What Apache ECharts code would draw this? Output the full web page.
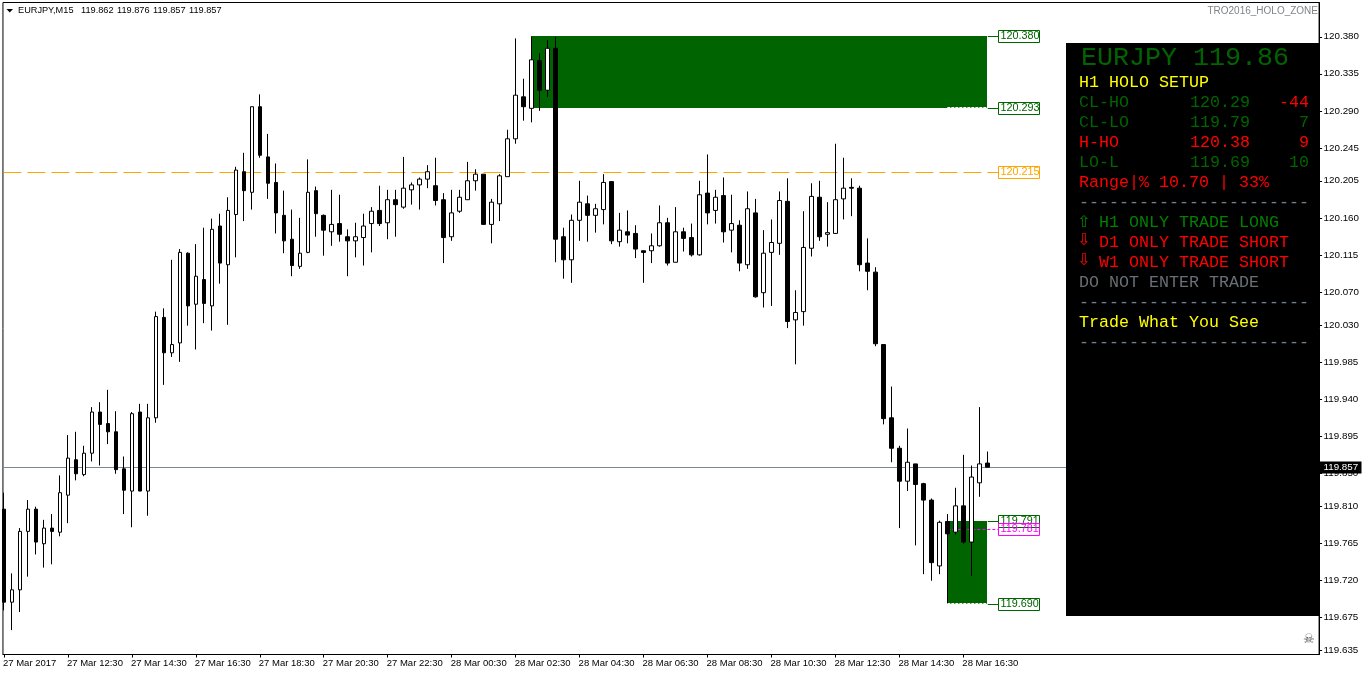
<!DOCTYPE html>
<html>
<head>
<meta charset="utf-8">
<style>html,body{margin:0;padding:0;background:#fff}#c{width:1362px;height:675px}</style>
<script src="https://cdn.jsdelivr.net/npm/echarts@6/dist/echarts.min.js"></script>
</head>
<body>
<div id="c"></div>
<script>
const opens=[119.806,119.693,119.708,119.779,119.806,119.764,119.783,119.778,119.823,119.866,
119.848,119.874,119.924,119.910,119.900,119.855,119.828,119.924,119.828,119.917,
120.039,119.996,120.008,120.117,120.055,120.085,120.053,120.150,120.103,120.164,
120.216,120.191,120.295,120.234,120.203,120.163,120.134,120.101,120.118,120.193,
120.163,120.143,120.153,120.137,120.132,120.136,120.153,120.169,120.154,120.182,
120.173,120.194,120.200,120.207,120.199,120.182,120.137,120.168,120.182,120.205,
120.213,120.152,120.177,120.210,120.256,120.307,120.293,120.351,120.315,120.366,
120.137,120.109,120.157,120.177,120.163,120.170,120.204,120.131,120.143,120.141,
120.120,120.120,120.126,120.154,120.106,120.143,120.136,120.115,120.190,120.169,
120.187,120.145,120.151,120.103,120.166,120.069,120.118,120.129,120.180,120.036,
120.046,120.123,120.185,120.140,120.141,120.183,120.197,120.196,120.105,120.094,
120.006,119.917,119.880,119.840,119.861,119.837,119.817,119.737,119.791,119.778,
119.810,119.766,119.838,119.862];
const closes=[119.693,119.708,119.779,119.806,119.766,119.783,119.779,119.826,119.868,119.849,
119.874,119.924,119.909,119.900,119.854,119.829,119.922,119.828,119.917,120.040,
119.996,120.006,120.118,120.053,120.089,120.056,120.146,120.105,120.169,120.218,
120.193,120.295,120.236,120.202,120.166,120.132,120.102,120.117,120.191,120.165,
120.145,120.152,120.140,120.132,120.137,120.150,120.168,120.153,120.182,120.176,
120.196,120.200,120.207,120.216,120.181,120.136,120.166,120.185,120.205,120.213,
120.152,120.179,120.211,120.256,120.309,120.295,120.352,120.315,120.366,120.134,
120.109,120.157,120.179,120.163,120.171,120.203,120.132,120.145,120.139,120.122,
120.118,120.126,120.154,120.105,120.143,120.135,120.115,120.188,120.166,120.185,
120.143,120.153,120.105,120.171,120.064,120.117,120.130,120.181,120.034,120.045,
120.124,120.186,120.137,120.142,120.182,120.196,120.196,120.103,120.095,120.007,
119.916,119.880,119.840,119.863,119.836,119.817,119.741,119.790,119.776,119.810,
119.766,119.845,119.861,119.857];
const lows=[119.683,119.659,119.681,119.724,119.751,119.735,119.739,119.773,119.789,119.841,
119.846,119.864,119.859,119.885,119.849,119.800,119.784,119.828,119.798,119.911,
119.957,119.991,119.985,120.029,120.000,120.032,120.023,120.080,120.030,120.112,
120.156,120.170,120.233,120.183,120.141,120.117,120.089,120.098,120.117,120.137,
120.114,120.126,120.131,120.089,120.112,120.102,120.118,120.150,120.134,120.137,
120.171,120.176,120.170,120.196,120.175,120.105,120.132,120.166,120.182,120.193,
120.152,120.129,120.156,120.210,120.250,120.278,120.276,120.290,120.307,120.106,
120.086,120.081,120.132,120.131,120.142,120.152,120.128,120.125,120.129,120.111,
120.081,120.105,120.125,120.102,120.106,120.119,120.113,120.114,120.152,120.153,
120.130,120.118,120.095,120.098,120.063,120.051,120.053,120.115,120.026,119.982,
120.029,120.113,120.132,120.125,120.141,120.158,120.162,120.095,120.072,120.004,
119.909,119.863,119.783,119.828,119.762,119.727,119.719,119.727,119.776,119.775,
119.764,119.725,119.821,119.857];
const highs=[119.826,119.728,119.783,119.817,119.809,119.793,119.800,119.847,119.896,119.900,
119.883,119.930,119.936,119.951,119.925,119.870,119.924,119.934,119.934,120.046,
120.050,120.109,120.122,120.118,120.128,120.148,120.159,120.165,120.185,120.222,
120.239,120.295,120.310,120.262,120.226,120.193,120.170,120.160,120.231,120.198,
120.164,120.194,120.188,120.146,120.154,120.165,120.173,120.199,120.194,120.194,
120.234,120.203,120.209,120.224,120.233,120.190,120.194,120.194,120.228,120.219,
120.213,120.183,120.213,120.267,120.378,120.329,120.380,120.360,120.376,120.380,
120.148,120.164,120.205,120.187,120.177,120.213,120.204,120.166,120.169,120.151,
120.120,120.141,120.175,120.160,120.173,120.148,120.153,120.205,120.237,120.194,
120.209,120.188,120.157,120.192,120.183,120.145,120.158,120.192,120.208,120.072,
120.168,120.202,120.205,120.179,120.250,120.233,120.208,120.199,120.135,120.100,
120.006,119.955,119.883,119.904,119.861,119.838,119.819,119.792,119.800,119.832,
119.872,119.859,119.930,119.876];

const timeLabels=['27 Mar 2017','27 Mar 12:30','27 Mar 14:30','27 Mar 16:30','27 Mar 18:30','27 Mar 20:30','27 Mar 22:30','28 Mar 00:30','28 Mar 02:30','28 Mar 04:30','28 Mar 06:30','28 Mar 08:30','28 Mar 10:30','28 Mar 12:30','28 Mar 14:30','28 Mar 16:30'];
const barsPerLabel=8;
const priceTicks=[120.380,120.335,120.290,120.245,120.205,120.160,120.115,120.070,120.030,119.985,119.940,119.895,119.850,119.810,119.765,119.720,119.675,119.635];

const holoHigh=120.380, holoLow=120.293, lowerHigh=119.791, lowerMid=119.781, lowerLow=119.690, pivot=120.215, bid=119.857;
const zoneStartBars=[66,118], zoneEndBar=123;

const symbolTitle='EURJPY,M15';
const ohlcQuote=['119.862','119.876','119.857','119.857'];
const indicatorName='TRO2016_HOLO_ZONE';
const panelHeader='EURJPY 119.86';
const panelSetup='H1 HOLO SETUP';
const setupNames=['CL-HO','CL-LO','H-HO','LO-L'];
const setupPrices=['120.29','119.79','120.38','119.69'];
const setupPips=['-44','7','9','10'];
const rangeLine='Range|% 10.70 | 33%';
const rule='-----------------------';
const trendLines=['H1 ONLY TRADE LONG','D1 ONLY TRADE SHORT','W1 ONLY TRADE SHORT'];
const adviceLine='DO NOT ENTER TRADE';
const mottoLine='Trade What You See';

// ---- styles & layout
const DG='#006400',GR='#008000',RD='#ff0000',YL='#ffff00',SL='#708090',MG='#ff00ff',OR='#ffa500';
const AX='Liberation Sans',MONO='Liberation Mono';
const candles=opens.map((o,i)=>[i,o,closes[i],lows[i],highs[i]]);
const tickBars=timeLabels.map((_,k)=>k*barsPerLabel);
const connectorStart=123.06,tagBar=124.35;

const guides=[
 {d:[-0.06,tagBar,pivot],c:OR,dash:[18,6]},
 {d:[-0.125,164.5,bid],c:'#778899'},
 {d:[connectorStart,tagBar,holoHigh],c:DG},
 {d:[connectorStart,tagBar,holoLow],c:DG},
 {d:[connectorStart,tagBar,lowerHigh],c:DG},
 {d:[connectorStart,tagBar,lowerLow],c:DG},
 {d:[118,tagBar,lowerMid],c:MG,dash:[3,2]},
 {d:[118,123,holoLow],c:'#fff',dash:[3,1],up:1},
 {d:[118,123,lowerLow],c:'#fff',dash:[3,1],up:1}
];
const tags=[
 {d:[tagBar,holoHigh],c:DG},{d:[tagBar,holoLow],c:DG},{d:[tagBar,pivot],c:OR},
 {d:[tagBar,lowerHigh],c:DG},{d:[tagBar,lowerMid],c:MG},{d:[tagBar,lowerLow],c:DG},
 {d:[164.56,bid],c:'#fff',fill:'#000',w:42,tx:4}
];

function txt(text,x,y,color,size,font,extra){
  return Object.assign({type:'text',x:x,y:y,z:101,silent:true,style:{text:text,fill:color,font:(extra&&extra.weight?extra.weight+' ':'')+size+'px "'+font+'"',textAlign:(extra&&extra.align)||'left',textVerticalAlign:'middle'}});
}
const panelX=1079,rowH=20,midX=1190,pipX=1309,ms=16.67;
const panel=[{type:'rect',z:100,silent:true,shape:{x:1066,y:43,width:253.5,height:573},style:{fill:'#000'}}];
panel.push(txt(panelHeader,1081,58,DG,26.67,MONO));
panel.push(txt(panelSetup,panelX,83,YL,ms,MONO));
const setupColors=[DG,DG,RD,DG],pipColors=[RD,DG,RD,DG];
setupNames.forEach((n,i)=>{
  const y=103+i*rowH;
  panel.push(txt(n,panelX,y,setupColors[i],ms,MONO));
  panel.push(txt(setupPrices[i],midX,y,setupColors[i],ms,MONO));
  panel.push(txt(setupPips[i],pipX,y,pipColors[i],ms,MONO,{align:'right'}));
});
panel.push(txt(rangeLine,panelX,183,RD,ms,MONO));
panel.push(txt(rule,panelX,203,SL,ms,MONO));
const trendCols=[GR,RD,RD],arrows=['\u21E7','\u21E9','\u21E9'];
trendLines.forEach((t,i)=>{
  const y=223+i*rowH;
  panel.push(txt(arrows[i],1077,y-(i?2:0),trendCols[i],16,'DejaVu Sans'));
  panel.push(txt(t,1099,y,trendCols[i],ms,MONO));
});
panel.push(txt(adviceLine,panelX,283,'#696f76',ms,MONO));
panel.push(txt(rule,panelX,303,SL,ms,MONO));
panel.push(txt(mottoLine,panelX,323,YL,ms,MONO));
panel.push(txt(rule,panelX,343,SL,ms,MONO));

const heading=[
 {type:'polygon',z:101,silent:true,shape:{points:[[6.5,9],[13,9],[9.75,12.5]]},style:{fill:'#000'}},
 txt(symbolTitle,18,10.5,'#000',9.2,AX)
];
ohlcQuote.forEach((q,i)=>heading.push(txt(q,81+i*36,10.5,'#000',9.2,AX)));
heading.push(txt(indicatorName,1318,11,'#808488',10,AX,{align:'right'}));
heading.push(txt('\u2620',1303,640,'#555',13,'DejaVu Sans'));

const option={
 animation:false,
 backgroundColor:'#fff',
 grid:{show:true,left:2.5,top:2.5,width:1317,height:652,backgroundColor:'#fff',borderColor:'#000',borderWidth:1,containLabel:false},
 xAxis:{type:'value',min:-0.125,max:164.5,position:'bottom',
  splitLine:{show:false},
  axisLine:{show:true,onZero:false,lineStyle:{color:'#000',width:1}},
  axisTick:{show:true,length:3,inside:false,lineStyle:{color:'#000'},customValues:tickBars},
  axisLabel:{show:true,margin:4,color:'#000',fontFamily:AX,fontSize:9.5,align:'left',verticalAlign:'top',
   customValues:tickBars.map(v=>v-0.12),
   formatter:v=>timeLabels[Math.round((v+0.12)/barsPerLabel)]||''}},
 yAxis:{type:'value',position:'right',min:119.6294,max:120.42162,scale:true,
  splitLine:{show:false},
  axisLine:{show:true,onZero:false,lineStyle:{color:'#000',width:1}},
  axisTick:{show:true,length:3,lineStyle:{color:'#000'},customValues:priceTicks},
  axisLabel:{show:true,margin:4.5,color:'#000',fontFamily:AX,fontSize:9.8,align:'left',
   customValues:priceTicks,formatter:v=>v.toFixed(3)}},
 series:[
  {type:'custom',name:'zones',z:1,silent:true,clip:true,
   encode:{x:[0,1],y:[2,3]},
   data:[[zoneStartBars[0],zoneEndBar,holoHigh,holoLow],[zoneStartBars[1],zoneEndBar,lowerHigh,lowerLow]],
   renderItem:(p,api)=>{
    const a=api.coord([api.value(0),api.value(2)]),b=api.coord([api.value(1),api.value(3)]);
    const x=Math.floor(a[0]),y=Math.floor(a[1]),w=Math.floor(b[0])-x,h=Math.floor(b[1])-y;
    const ch=[{type:'rect',shape:{x:x,y:y,width:w,height:h},style:{fill:DG}}];
    if(p.dataIndex===1)ch.push({type:'rect',shape:{x:x,y:y,width:1,height:h},style:{fill:'#000'}});
    return {type:'group',children:ch};
   }},
  {type:'custom',name:'guides',z:2,silent:true,clip:false,
   encode:{x:[0,1],y:2},
   data:guides.map(g=>g.d),
   renderItem:(p,api)=>{
    const g=guides[p.dataIndex];
    const a=api.coord([api.value(0),api.value(2)]),b=api.coord([api.value(1),api.value(2)]);
    const y=Math.floor(a[1])+0.5-(g.up?1:0);
    return {type:'line',shape:{x1:a[0],y1:y,x2:b[0],y2:y},style:{stroke:g.c,lineWidth:1,lineDash:g.dash||null,fill:null}};
   }},
  {type:'candlestick',name:'EURJPY,M15',z:3,silent:true,barWidth:4,
   encode:{x:0,y:[1,2,3,4]},
   data:candles,
   itemStyle:{color:'#ffffff',color0:'#000000',borderColor:'#000000',borderColor0:'#000000',borderWidth:1}},
  {type:'custom',name:'tags',z:4,silent:true,clip:false,
   encode:{x:0,y:1},
   data:tags.map(t=>t.d),
   renderItem:(p,api)=>{
    const t=tags[p.dataIndex];
    const a=api.coord([api.value(0),api.value(1)]);
    const x=Math.floor(a[0])+0.5,y=Math.floor(a[1])+0.5,w=t.w||41;
    return {type:'group',children:[
     {type:'rect',shape:{x:x,y:y-6,width:w,height:12},style:{fill:t.fill||'none',stroke:t.fill?null:t.c,lineWidth:1}},
     {type:'text',style:{x:x+(t.tx||2),y:y,text:api.value(1).toFixed(3),fill:t.c,font:(t.fill?'9.8':'10.8')+'px "'+AX+'"',textVerticalAlign:'middle',textAlign:'left'}}
    ]};
   }}
 ],
 graphic:{elements:panel.concat(heading)}
};
const chart=echarts.init(document.getElementById('c'),null,{renderer:'canvas'});
chart.setOption(option);
</script>
</body>
</html>
